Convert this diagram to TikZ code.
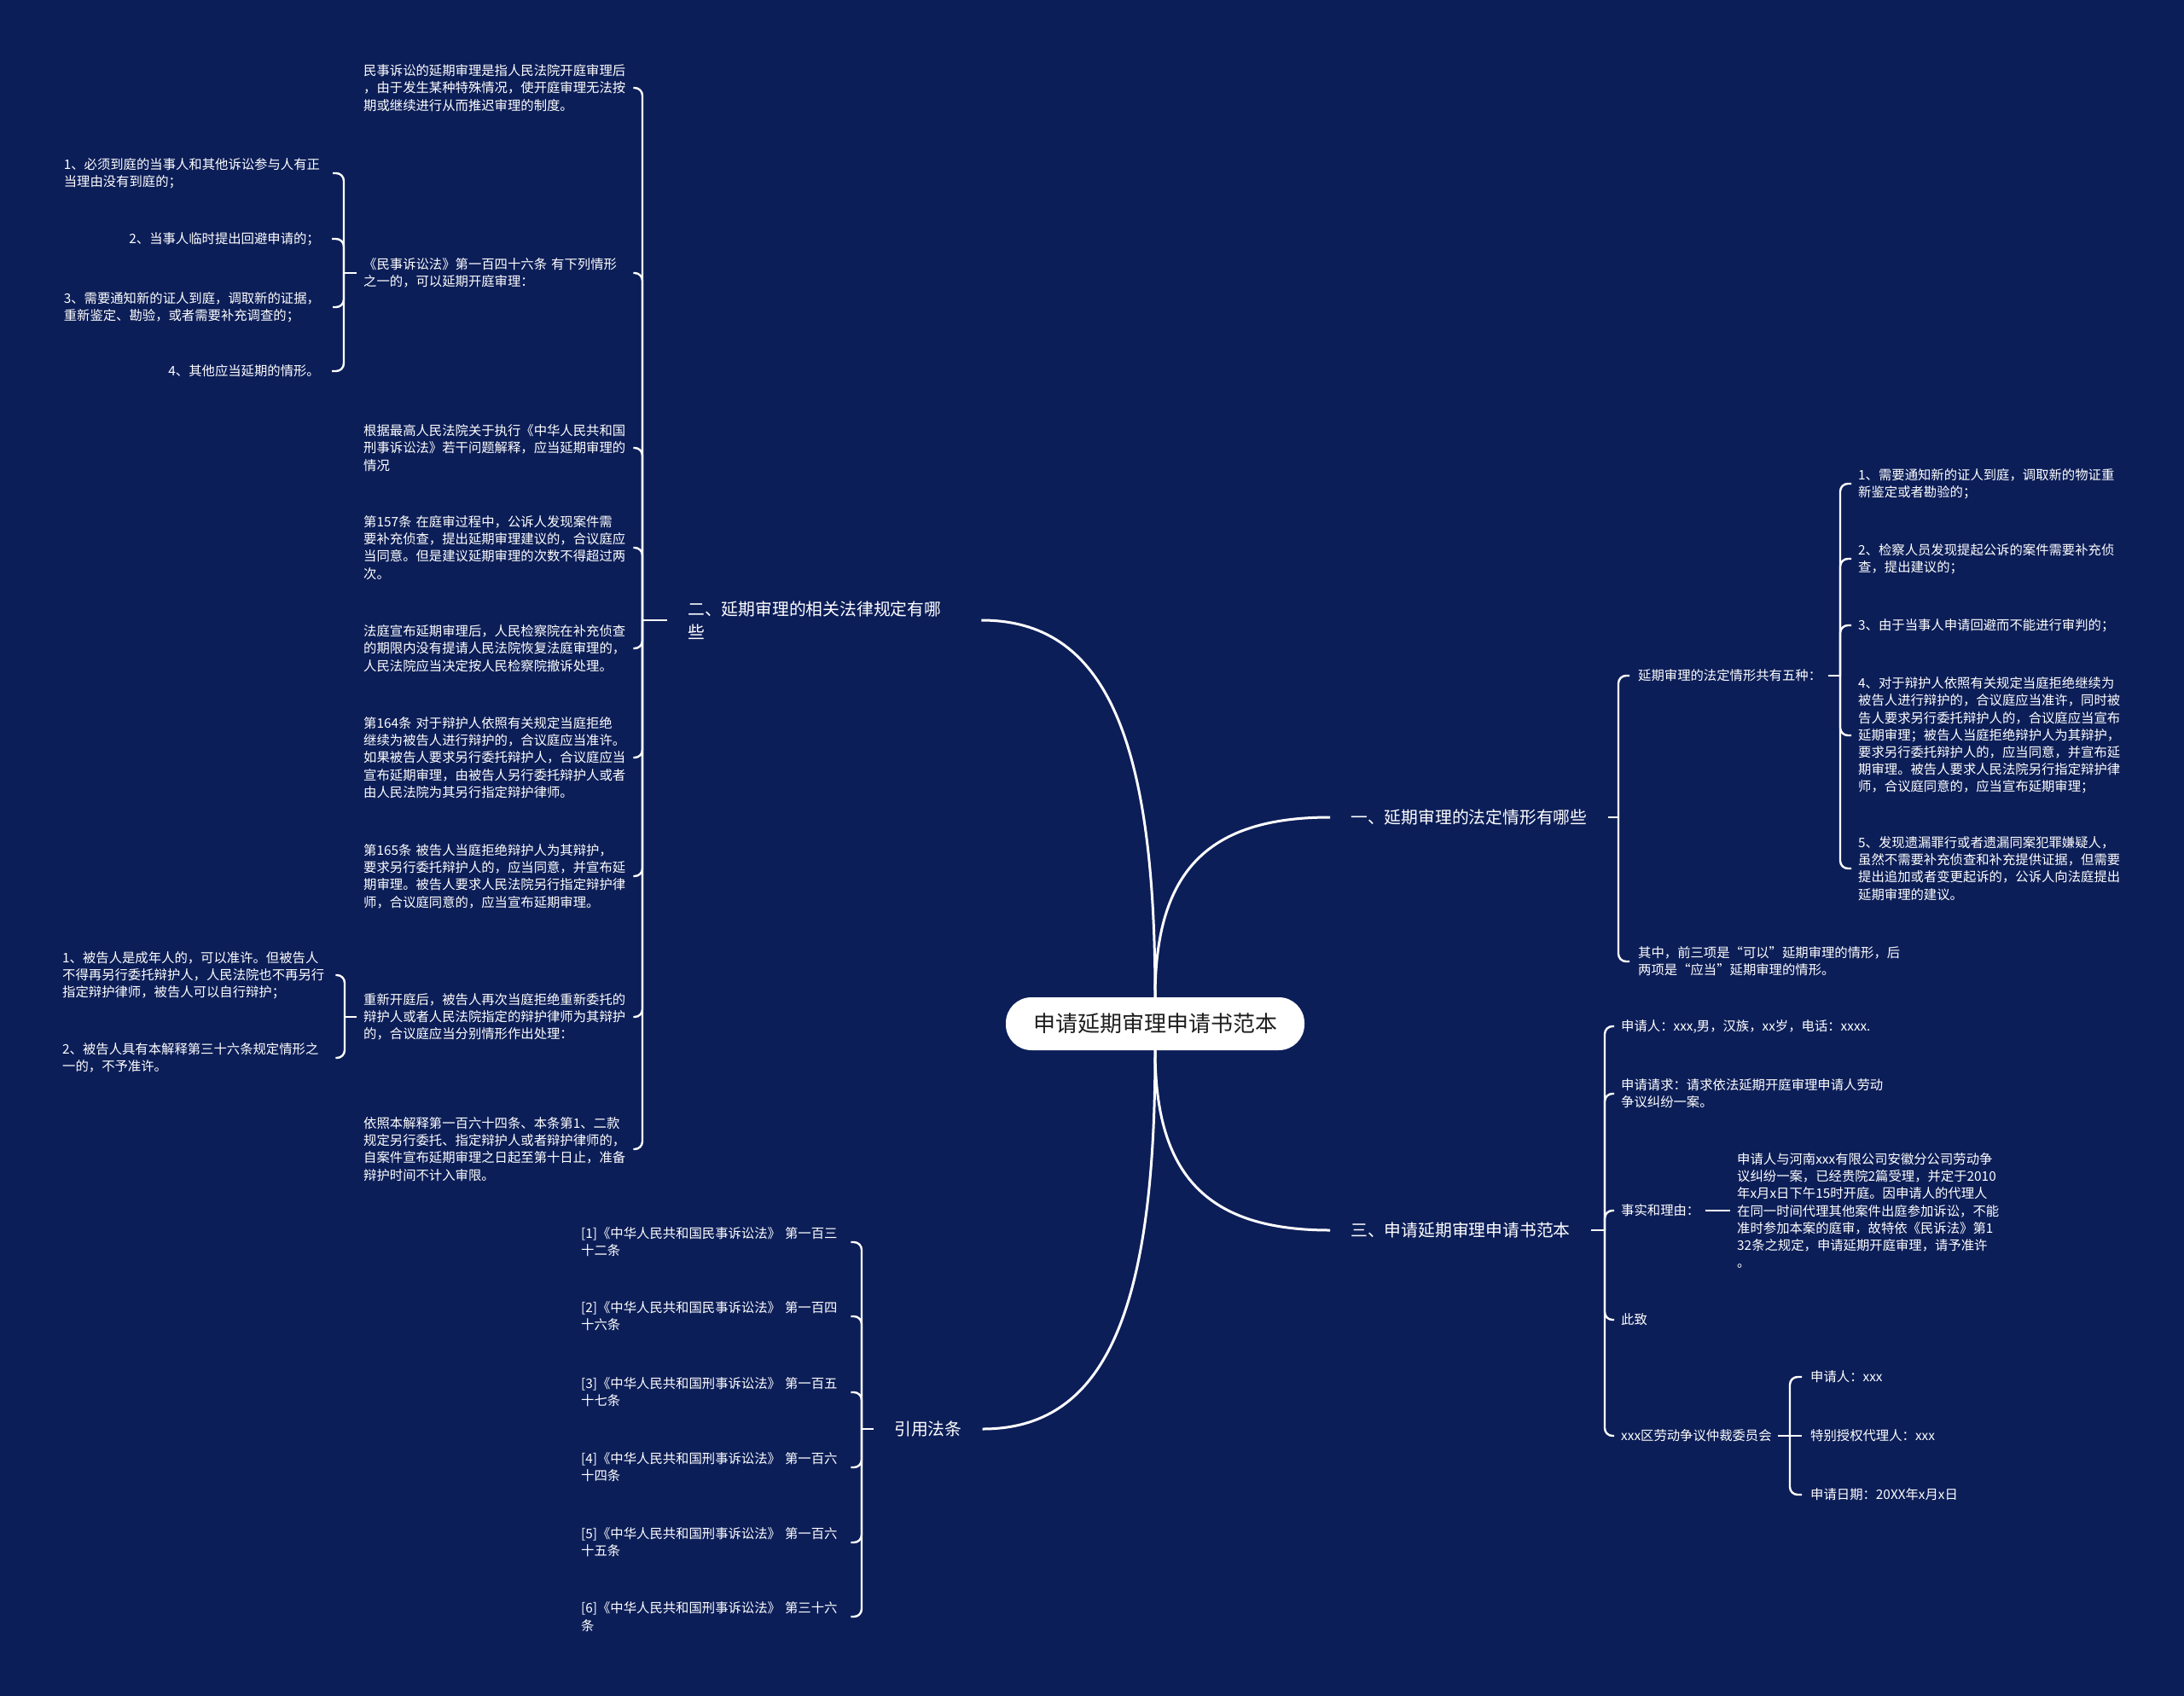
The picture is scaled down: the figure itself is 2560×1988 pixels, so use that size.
\documentclass[tikz,border=0pt]{standalone}
\usepackage{fontspec}
\setmainfont{Noto Sans CJK SC}
\usepackage{tikz}
\usetikzlibrary{calc}
\definecolor{mnavy}{HTML}{0C1E58}
\definecolor{mpaper}{HTML}{FFFFFF}
\definecolor{mink}{HTML}{1E1E1E}
\tikzset{
  mroot/.style={
    rounded corners=30pt, fill=mpaper, text=mink, inner sep=0pt,
    minimum width=350pt, minimum height=62pt,
    font=\fontsize{26}{30}\selectfont},
  mbranch/.style={
    text=mpaper, align=left, inner sep=0pt, anchor=west,
    font=\fontsize{19.8}{27}\selectfont},
  mleaf/.style={
    text=mpaper, align=left, inner sep=0pt,
    font=\fontsize{15.35}{20.2}\selectfont},
  mtrunk/.style={draw=mpaper, line width=3pt},
  mlink/.style={draw=mpaper, line width=2.4pt, rounded corners=9pt},
}
\begin{document}
\begin{tikzpicture}[x=1pt,y=-1pt]
\fill[mnavy] (0,0) rectangle (2560,1988);
\useasboundingbox (0,0) rectangle (2560,1988);

% root
\node[mroot] (root) at (1354,1200) {申请延期审理申请书范本};

% branches
\node[mbranch] (b1) at (1583,958) {一、延期审理的法定情形有哪些};
\node[mbranch,text width=320pt] (b2) at (806,727) {二、延期审理的相关法律规定有哪\\些};
\node[mbranch] (b3) at (1583,1442) {三、申请延期审理申请书范本};
\node[mbranch] (b4) at (1048,1675) {引用法条};

% trunks from the root
\coordinate (b1in) at ($(b1.west)+(-24,0)$);
\coordinate (b2in) at ($(b2.east)+(24,0)$);
\coordinate (b3in) at ($(b3.west)+(-24,0)$);
\coordinate (b4in) at ($(b4.east)+(24,0)$);
\foreach \e/\s in {b1in/north,b2in/north,b3in/south,b4in/south}
  \draw[mtrunk] (root.\s) .. controls ($(root.\s)!0.7!(root.\s |- \e)$)
    and ($(root.\s |- \e)!0.3!(\e)$) .. (\e);

% branch one: the five cases
\node[mleaf,anchor=west] (c11) at (1920,792) {延期审理的法定情形共有五种：};
\node[mleaf,anchor=west] (c12) at (1920,1127)
  {其中，前三项是“可以”延期审理的情形，后\\两项是“应当”延期审理的情形。};
\coordinate (s1) at (1897,958);
\draw[mlink] ($(b1.east)+(24,0)$) -- (s1);
\foreach \c in {c11,c12} \draw[mlink] (s1) |- ($(\c.west)+(-10,0)$);

\node[mleaf,anchor=west] (c111) at (2178,567)
  {1、需要通知新的证人到庭，调取新的物证重\\新鉴定或者勘验的；};
\node[mleaf,anchor=west] (c112) at (2178,655)
  {2、检察人员发现提起公诉的案件需要补充侦\\查，提出建议的；};
\node[mleaf,anchor=west] (c113) at (2178,733) {3、由于当事人申请回避而不能进行审判的；};
\node[mleaf,anchor=west] (c114) at (2178,862)
  {4、对于辩护人依照有关规定当庭拒绝继续为\\被告人进行辩护的，合议庭应当准许，同时被\\告人要求另行委托辩护人的，合议庭应当宣布\\延期审理；被告人当庭拒绝辩护人为其辩护，\\要求另行委托辩护人的，应当同意，并宣布延\\期审理。被告人要求人民法院另行指定辩护律\\师，合议庭同意的，应当宣布延期审理；};
\node[mleaf,anchor=west] (c115) at (2178,1018)
  {5、发现遗漏罪行或者遗漏同案犯罪嫌疑人，\\虽然不需要补充侦查和补充提供证据，但需要\\提出追加或者变更起诉的，公诉人向法庭提出\\延期审理的建议。};
\coordinate (s11) at (2157,792);
\draw[mlink] ($(c11.east)+(8,0)$) -- (s11);
\foreach \c in {c111,c112,c113,c114,c115} \draw[mlink] (s11) |- ($(\c.west)+(-8,0)$);

% branch two: the legal rules
\node[mleaf,anchor=west,text width=312pt] (c21) at (426,103)
  {民事诉讼的延期审理是指人民法院开庭审理后\\，由于发生某种特殊情况，使开庭审理无法按\\期或继续进行从而推迟审理的制度。};
\node[mleaf,anchor=west,text width=312pt] (c22) at (426,320)
  {《民事诉讼法》第一百四十六条 有下列情形\\之一的，可以延期开庭审理：};
\node[mleaf,anchor=west,text width=312pt] (c23) at (426,525)
  {根据最高人民法院关于执行《中华人民共和国\\刑事诉讼法》若干问题解释，应当延期审理的\\情况};
\node[mleaf,anchor=west,text width=312pt] (c24) at (426,642)
  {第157条 在庭审过程中，公诉人发现案件需\\要补充侦查，提出延期审理建议的，合议庭应\\当同意。但是建议延期审理的次数不得超过两\\次。};
\node[mleaf,anchor=west,text width=312pt] (c25) at (426,760)
  {法庭宣布延期审理后，人民检察院在补充侦查\\的期限内没有提请人民法院恢复法庭审理的，\\人民法院应当决定按人民检察院撤诉处理。};
\node[mleaf,anchor=west,text width=312pt] (c26) at (426,888)
  {第164条 对于辩护人依照有关规定当庭拒绝\\继续为被告人进行辩护的，合议庭应当准许。\\如果被告人要求另行委托辩护人，合议庭应当\\宣布延期审理，由被告人另行委托辩护人或者\\由人民法院为其另行指定辩护律师。};
\node[mleaf,anchor=west,text width=312pt] (c27) at (426,1027)
  {第165条 被告人当庭拒绝辩护人为其辩护，\\要求另行委托辩护人的，应当同意，并宣布延\\期审理。被告人要求人民法院另行指定辩护律\\师，合议庭同意的，应当宣布延期审理。};
\node[mleaf,anchor=west,text width=312pt] (c28) at (426,1192)
  {重新开庭后，被告人再次当庭拒绝重新委托的\\辩护人或者人民法院指定的辩护律师为其辩护\\的，合议庭应当分别情形作出处理：};
\node[mleaf,anchor=west,text width=312pt] (c29) at (426,1347)
  {依照本解释第一百六十四条、本条第1、二款\\规定另行委托、指定辩护人或者辩护律师的，\\自案件宣布延期审理之日起至第十日止，准备\\辩护时间不计入审限。};
\coordinate (s2) at (753,727);
\draw[mlink] ($(b2.west)+(-24,0)$) -- (s2);
\foreach \c in {c21,c22,c23,c24,c25,c26,c27,c28,c29} \draw[mlink] (s2) |- ($(\c.east)+(4,0)$);

% the civil procedure cases
\node[mleaf,anchor=east,text width=301pt] (c221) at (376,203)
  {1、必须到庭的当事人和其他诉讼参与人有正\\当理由没有到庭的；};
\node[mleaf,anchor=east] (c222) at (375,280) {2、当事人临时提出回避申请的；};
\node[mleaf,anchor=east,text width=301pt] (c223) at (376,360)
  {3、需要通知新的证人到庭，调取新的证据，\\重新鉴定、勘验，或者需要补充调查的；};
\node[mleaf,anchor=east] (c224) at (375,435) {4、其他应当延期的情形。};
\coordinate (s22) at (403,320);
\draw[mlink] ($(c22.west)+(-8,0)$) -- (s22);
\foreach \c in {c221,c222,c223,c224} \draw[mlink] (s22) |- ($(\c.east)+(14,0)$);

% the reopened hearing
\node[mleaf,anchor=west,text width=310pt] (c281) at (73,1143)
  {1、被告人是成年人的，可以准许。但被告人\\不得再另行委托辩护人，人民法院也不再另行\\指定辩护律师，被告人可以自行辩护；};
\node[mleaf,anchor=west,text width=310pt] (c282) at (73,1240)
  {2、被告人具有本解释第三十六条规定情形之\\一的，不予准许。};
\coordinate (s28) at (404,1192);
\draw[mlink] ($(c28.west)+(-8,0)$) -- (s28);
\foreach \c in {c281,c282} \draw[mlink] (s28) |- ($(\c.east)+(10,0)$);

% branch three: the sample letter
\node[mleaf,anchor=west] (c31) at (1900,1203) {申请人：xxx,男，汉族，xx岁，电话：xxxx.};
\node[mleaf,anchor=west] (c32) at (1900,1282)
  {申请请求：请求依法延期开庭审理申请人劳动\\争议纠纷一案。};
\node[mleaf,anchor=west] (c33) at (1900,1419) {事实和理由：};
\node[mleaf,anchor=west] (c34) at (1900,1547) {此致};
\node[mleaf,anchor=west] (c35) at (1900,1683) {xxx区劳动争议仲裁委员会};
\coordinate (s3) at (1881,1442);
\draw[mlink] ($(b3.east)+(24,0)$) -- (s3);
\foreach \c in {c31,c32,c33,c34,c35} \draw[mlink] (s3) |- ($(\c.west)+(-8,0)$);

\node[mleaf,anchor=west] (c331) at (2036,1419)
  {申请人与河南xxx有限公司安徽分公司劳动争\\议纠纷一案，已经贵院2篇受理，并定于2010\\年x月x日下午15时开庭。因申请人的代理人\\在同一时间代理其他案件出庭参加诉讼，不能\\准时参加本案的庭审，故特依《民诉法》第1\\32条之规定，申请延期开庭审理，请予准许\\。};
\draw[mlink] ($(c33.east)+(6,0)$) -- ($(c331.west)+(-8,0)$);

\node[mleaf,anchor=west] (c351) at (2122,1614) {申请人：xxx};
\node[mleaf,anchor=west] (c352) at (2122,1683) {特别授权代理人：xxx};
\node[mleaf,anchor=west] (c353) at (2122,1752) {申请日期：20XX年x月x日};
\coordinate (s35) at (2098,1683);
\draw[mlink] ($(c35.east)+(7,0)$) -- (s35) -- ($(c352.west)+(-10,0)$);
\foreach \c in {c351,c353} \draw[mlink] (s35) |- ($(\c.west)+(-10,0)$);

% branch four: the cited articles
\node[mleaf,anchor=west,text width=306pt] (c41) at (681,1456)
  {[1]《中华人民共和国民事诉讼法》 第一百三\\十二条};
\node[mleaf,anchor=west,text width=306pt] (c42) at (681,1543)
  {[2]《中华人民共和国民事诉讼法》 第一百四\\十六条};
\node[mleaf,anchor=west,text width=306pt] (c43) at (681,1632)
  {[3]《中华人民共和国刑事诉讼法》 第一百五\\十七条};
\node[mleaf,anchor=west,text width=306pt] (c44) at (681,1720)
  {[4]《中华人民共和国刑事诉讼法》 第一百六\\十四条};
\node[mleaf,anchor=west,text width=306pt] (c45) at (681,1808)
  {[5]《中华人民共和国刑事诉讼法》 第一百六\\十五条};
\node[mleaf,anchor=west,text width=306pt] (c46) at (681,1895)
  {[6]《中华人民共和国刑事诉讼法》 第三十六\\条};
\coordinate (s4) at (1010,1675);
\draw[mlink] ($(b4.west)+(-24,0)$) -- (s4);
\foreach \c in {c41,c42,c43,c44,c45,c46} \draw[mlink] (s4) |- ($(\c.east)+(10,0)$);

\end{tikzpicture}
\end{document}
